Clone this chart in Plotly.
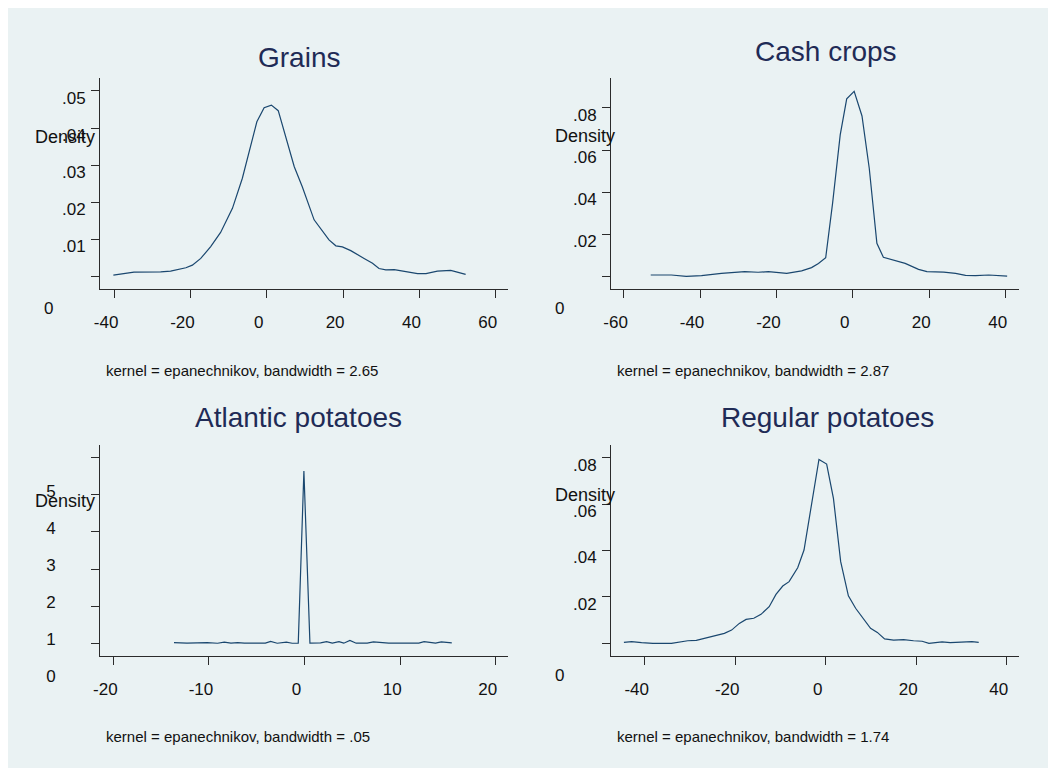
import plotly.graph_objects as go

# ---------------- data ----------------
titles = ["Grains", "Cash crops", "Atlantic potatoes", "Regular potatoes"]
bandwidths = ["2.65", "2.87", ".05", "1.74"]

grains_x = [-40.2, -34.8, -27.8, -25.2, -21.2, -19.5, -17.3, -14.7, -12.1, -9.0, -6.4, -4.2, -2.6,
            -0.7, 1.2, 3.0, 5.0, 7.2, 9.3, 12.4, 16.3, 18.1, 19.8, 22.0, 25.5, 27.7, 29.4, 31.2,
            33.4, 36.9, 39.5, 41.7, 44.7, 48.2, 52.1]
grains_y = [0.0004, 0.0012, 0.0013, 0.0015, 0.0024, 0.0031, 0.0049, 0.0081, 0.0119, 0.0184, 0.0265,
            0.0350, 0.0417, 0.0455, 0.0462, 0.0447, 0.0373, 0.0296, 0.0242, 0.0153, 0.0099, 0.0083,
            0.0080, 0.0070, 0.0049, 0.0036, 0.0022, 0.0018, 0.0019, 0.0013, 0.0008, 0.0008, 0.0015,
            0.0017, 0.0006]

cash_x = [-52.9, -47.5, -43.6, -39.6, -34.4, -28.3, -24.8, -22.1, -17.3, -13.4, -10.8, -9.0, -7.1,
          -5.3, -3.3, -1.6, 0.35, 2.4, 4.3, 6.3, 8.0, 10.2, 13.7, 17.2, 19.4, 23.8, 26.9, 29.5,
          32.1, 35.6, 38.2, 40.4]
cash_y = [0.0008, 0.0008, 0.0002, 0.0005, 0.0016, 0.0024, 0.0021, 0.0024, 0.0016, 0.0028, 0.0043,
          0.0063, 0.0090, 0.0348, 0.0672, 0.0843, 0.0879, 0.0762, 0.0514, 0.0158, 0.0092, 0.0082,
          0.0063, 0.0035, 0.0024, 0.0022, 0.0016, 0.0006, 0.0005, 0.0008, 0.0006, 0.0003]

atlantic_x = [-13.66, -12.3, -10.2, -9.1, -8.4, -7.7, -7.0, -6.3, -4.1, -3.55, -2.86, -1.9, -1.3,
              -0.66, -0.07, 0.56, 1.67, 2.3, 2.9, 3.6, 4.1, 4.74, 5.4, 6.55, 7.2, 8.8, 11.95,
              12.5, 13.7, 14.3, 15.4]
atlantic_y = [0.02, 0.003, 0.02, 0.002, 0.03, 0.003, 0.02, 0.003, 0.003, 0.05, 0.002, 0.03, 0.002,
              0.002, 4.64, 0.003, 0.012, 0.045, 0.003, 0.045, 0.003, 0.075, 0.003, 0.003, 0.036,
              0.003, 0.003, 0.045, 0.003, 0.036, 0.012]

regular_x = [-44.6, -42.9, -40.7, -38.2, -34.1, -31.9, -30.5, -28.6, -26.8, -25.3, -23.9, -22.4,
             -20.8, -19.1, -17.6, -15.9, -14.3, -12.5, -11.0, -9.5, -8.1, -6.2, -4.8, -3.3, -1.5,
             0.2, 1.7, 3.3, 5.0, 6.6, 8.4, 9.9, 11.4, 13.0, 15.0, 17.2, 19.4, 21.3, 22.8, 25.7,
             27.5, 30.5, 32.3, 33.8]
regular_y = [0.0004, 0.0007, 0.0003, 0.0000, 0.0000, 0.0007, 0.0011, 0.0013, 0.0022, 0.0027, 0.0037,
             0.0043, 0.0057, 0.0086, 0.0103, 0.0108, 0.0125, 0.0158, 0.0211, 0.0247, 0.0266, 0.0326,
             0.0402, 0.0582, 0.0793, 0.0773, 0.0625, 0.0352, 0.0205, 0.0151, 0.0103, 0.0065, 0.0047,
             0.0019, 0.0014, 0.0016, 0.0011, 0.0009, 0.0000, 0.0006, 0.0003, 0.0004, 0.0007, 0.0004]

grains_xticks = [-40, -20, 0, 20, 40, 60]
cash_xticks = [-60, -40, -20, 0, 20, 40]
atlantic_xticks = [-20, -10, 0, 10, 20]
regular_xticks = [-40, -20, 0, 20, 40]

grains_yticks = [0, 0.01, 0.02, 0.03, 0.04, 0.05]
grains_ylabels = ["0", ".01", ".02", ".03", ".04", ".05"]
cash_yticks = [0, 0.02, 0.04, 0.06, 0.08]
cash_ylabels = ["0", ".02", ".04", ".06", ".08"]
atlantic_yticks = [0, 1, 2, 3, 4, 5]
atlantic_ylabels = ["0", "1", "2", "3", "4", "5"]
regular_yticks = [0, 0.02, 0.04, 0.06, 0.08]
regular_ylabels = ["0", ".02", ".04", ".06", ".08"]

series_x = [grains_x, cash_x, atlantic_x, regular_x]
series_y = [grains_y, cash_y, atlantic_y, regular_y]
xticks = [grains_xticks, cash_xticks, atlantic_xticks, regular_xticks]
yticks = [grains_yticks, cash_yticks, atlantic_yticks, regular_yticks]
ylabels = [grains_ylabels, cash_ylabels, atlantic_ylabels, regular_ylabels]

# ---------------- layout / styling ----------------
OFF = 8                      # the page's default body margin
W, H = 1056 - OFF, 771 - OFF  # figure size so it fits the window exactly
FONT = "Liberation Sans, Arial, Helvetica, sans-serif"
BG = "#eaf2f3"
LINE = "#1a476f"
TITLE_C = "#1f2b56"
AX = "#2b2b2b"
TXT = "#111111"


def px(x):
    return (x - OFF) / W


def py(y):
    return 1 - (y - OFF) / H


# plot boxes in window pixels: (left, right, top, bottom)
boxes = [(100, 508, 78, 289), (611, 1019, 78, 289), (100, 508, 445, 656), (611, 1019, 445, 656)]
xranges = [[-43.7, 63.2], [-63.3, 43.5], [-21.4, 21.28], [-47.45, 42.7]]
yranges = [[-0.00333, 0.0535], [-0.00583, 0.0942], [-0.342, 5.342], [-0.00547, 0.0855]]
title_pos = [(299, 57.2), (825.7, 51.3), (298.8, 417.2), (827.5, 417.2)]
density_pos = [(97.3, 136.7), (616.5, 136.0), (96.7, 501.0), (617.3, 495.0)]
caption_pos = [(104, 370.7), (614.7, 370.7), (104.3, 736.7), (614.7, 736.7)]

fig = go.Figure()
annotations = []
for i in range(4):
    n = "" if i == 0 else str(i + 1)
    fig.add_trace(go.Scatter(x=series_x[i], y=series_y[i], mode="lines",
                             line=dict(color=LINE, width=1.2),
                             xaxis="x" + n, yaxis="y" + n, showlegend=False,
                             hoverinfo="x+y"))
    l, r, t, b = boxes[i]
    atl = (i == 2)
    ytext = list(ylabels[i]) if atl else [""] + list(ylabels[i][1:])
    fig.update_layout(**{
        "xaxis" + n: dict(domain=[px(l), px(r)], range=xranges[i], anchor="y" + n,
                          automargin=False,
                          tickmode="array", tickvals=xticks[i],
                          ticktext=[str(v) for v in xticks[i]],
                          ticks="outside", ticklen=8, tickcolor=AX, tickwidth=1,
                          showline=True, linecolor=AX, linewidth=1,
                          showgrid=False, zeroline=False,
                          tickfont=dict(family=FONT, size=17, color=TXT),
                          ticklabelshift=-8, ticklabelstandoff=10),
        "yaxis" + n: dict(domain=[py(b), py(t)], range=yranges[i], anchor="x" + n,
                          automargin=False,
                          tickmode="array", tickvals=yticks[i], ticktext=ytext,
                          ticks="outside", ticklen=8, tickcolor=AX, tickwidth=1,
                          showline=True, linecolor=AX, linewidth=1,
                          showgrid=True, gridcolor=BG, gridwidth=1, zeroline=False,
                          tickfont=dict(family=FONT, size=17, color=TXT),
                          ticklabelshift=(33 if atl else 7),
                          ticklabelstandoff=(32 if atl else 2)),
    })
    tx, ty = title_pos[i]
    annotations.append(dict(text=titles[i], x=px(tx), y=py(ty), xref="paper", yref="paper",
                            xanchor="center", yanchor="middle", showarrow=False,
                            font=dict(family=FONT, size=28, color=TITLE_C)))
    dx, dy = density_pos[i]
    annotations.append(dict(text="Density", x=px(dx), y=py(dy), xref="paper", yref="paper",
                            xanchor="right", yanchor="middle", showarrow=False,
                            font=dict(family=FONT, size=18, color=TXT)))
    cx, cy = caption_pos[i]
    annotations.append(dict(text="kernel = epanechnikov, bandwidth = " + bandwidths[i],
                            x=px(cx), y=py(cy), xref="paper", yref="paper",
                            xanchor="left", yanchor="middle", showarrow=False,
                            font=dict(family=FONT, size=15, color=TXT)))
    if not atl:
        annotations.append(dict(text=ylabels[i][0], x=0, y=yticks[i][0],
                                xref="x" + n + " domain", yref="y" + n,
                                xanchor="right", yanchor="middle", xshift=-45, yshift=-32,
                                showarrow=False,
                                font=dict(family=FONT, size=17, color=TXT)))

fig.update_layout(
    template="none",
    width=W, height=H, margin=dict(l=0, r=0, t=0, b=0, pad=0, autoexpand=False),
    paper_bgcolor="white", plot_bgcolor="white",
    annotations=annotations,
    shapes=[dict(type="rect", xref="paper", yref="paper", x0=0, x1=px(1051),
                 y0=py(768), y1=1, fillcolor=BG, line=dict(width=0), layer="below")],
)
fig.write_html("out.html")
